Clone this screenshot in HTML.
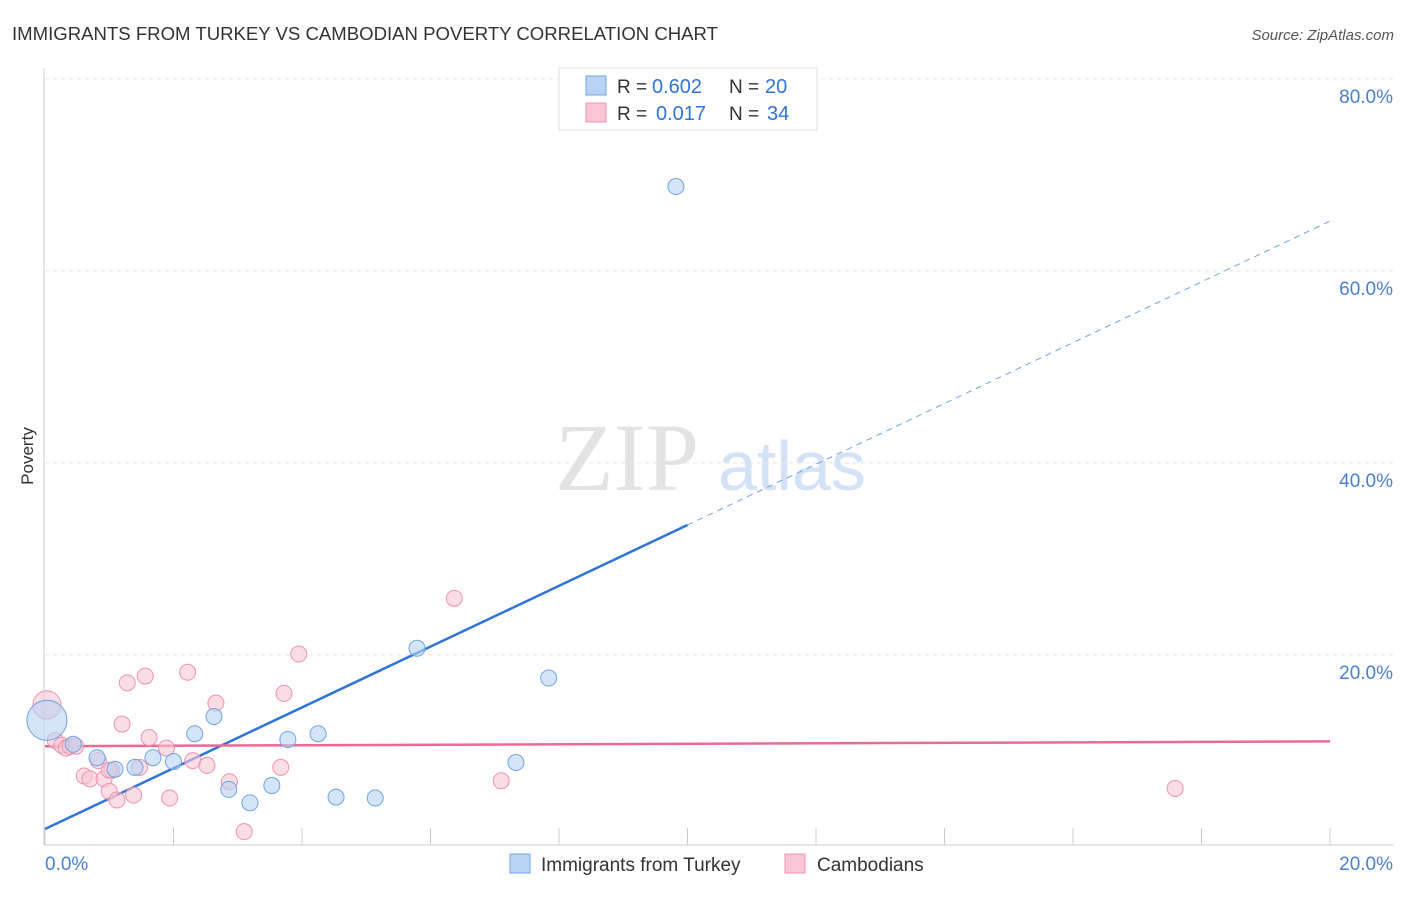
<!DOCTYPE html>
<html><head><meta charset="utf-8"><style>
body{margin:0;background:#fff;font-family:"Liberation Sans",sans-serif}
</style></head><body>
<svg width="1406" height="892" xmlns="http://www.w3.org/2000/svg" font-family="Liberation Sans, sans-serif">
<text x="12" y="40" font-size="18" fill="#333" textLength="706" lengthAdjust="spacingAndGlyphs">IMMIGRANTS FROM TURKEY VS CAMBODIAN POVERTY CORRELATION CHART</text>
<text x="1394" y="40" font-size="15" fill="#555" text-anchor="end" font-style="italic">Source: ZipAtlas.com</text>
<text x="555" y="490" font-size="96" fill="#e3e3e3" font-family="Liberation Serif, serif">ZIP</text>
<text x="718" y="490" font-size="70" fill="#d3e2f6">atlas</text>
<g id="grid"></g>
<line x1="44" y1="68" x2="44" y2="845" stroke="#ccc"/>
<line x1="44" y1="845" x2="1394" y2="845" stroke="#ccc"/>
<text transform="translate(33,456) rotate(-90)" font-size="17" fill="#333" text-anchor="middle">Poverty</text>
<text x="45" y="870" font-size="19" fill="#4a7fd4">0.0%</text>
<text x="1393" y="870" font-size="19" fill="#4a7fd4" text-anchor="end">20.0%</text>
<g id="lines"></g>
<g id="points"></g>
<g>
<rect x="559" y="68" width="258" height="62" fill="#fff" stroke="#ddd"/>
<rect x="586" y="76" width="20" height="19" fill="#b8d4f5" stroke="#6fa3e0"/>
<rect x="586" y="103" width="20" height="19" fill="#f8c6d4" stroke="#ee93af"/>
<text x="617" y="93" font-size="19" fill="#333">R =</text>
<text x="652" y="93" font-size="20" fill="#2f74d8">0.602</text>
<text x="729" y="93" font-size="19" fill="#333">N =</text>
<text x="765" y="93" font-size="20" fill="#2f74d8">20</text>
<text x="617" y="120" font-size="19" fill="#333">R =</text>
<text x="656" y="120" font-size="20" fill="#2f74d8">0.017</text>
<text x="729" y="120" font-size="19" fill="#333">N =</text>
<text x="767" y="120" font-size="20" fill="#2f74d8">34</text>
</g>
<g>
<rect x="510" y="854" width="20" height="19" fill="#b8d4f5" stroke="#6fa3e0"/>
<text x="541" y="871" font-size="19" fill="#333">Immigrants from Turkey</text>
<rect x="785" y="854" width="20" height="19" fill="#f8c6d4" stroke="#ee93af"/>
<text x="817" y="871" font-size="19" fill="#333">Cambodians</text>
</g>
</svg>
<script>
const yTicks=[20,40,60,80];
const yTickLabels=["20.0%","40.0%","60.0%","80.0%"];
const blueX=[0.03,0.44,0.81,1.09,1.4,1.68,2.0,2.33,2.63,2.86,3.19,3.53,3.78,4.25,4.53,5.14,5.79,7.33,7.84,9.82];
const blueY=[13.2,10.7,9.3,8.1,8.3,9.3,8.9,11.8,13.6,6.0,4.6,6.4,11.2,11.8,5.2,5.1,20.7,8.8,17.6,68.8];
const blueR=[20,8,8,8,8,8,8,8,8,8,8,8,8,8,8,8,8,8,8,8];
const pinkX=[0.03,0.16,0.26,0.33,0.39,0.48,0.61,0.7,0.83,0.92,1.0,1.04,1.12,1.2,1.28,1.38,1.47,1.56,1.62,1.89,1.94,2.22,2.3,2.52,2.66,2.87,3.1,3.67,3.72,3.95,6.37,7.1,17.59,1.0];
const pinkY=[14.8,11.1,10.6,10.3,10.5,10.5,7.4,7.1,9.0,7.1,5.8,8.0,4.9,12.8,17.1,5.4,8.3,17.8,11.4,10.3,5.1,18.2,9.0,8.5,15.0,6.8,1.6,8.3,16.0,20.1,25.9,6.9,6.1,8.0];
const pinkR=[14,8,8,8,8,8,8,8,8,8,8,8,8,8,8,8,8,8,8,8,8,8,8,8,8,8,8,8,8,8,8,8,8,8];
const blueLine=[1.875,65.2], blueSolidEnd=10.0;
const pinkLine=[10.5,11.0];
const X=v=>45+v/20*1285, Y=v=>847-v/80*768;
const NS="http://www.w3.org/2000/svg";
function mk(t,a,p){const e=document.createElementNS(NS,t);for(const k in a)e.setAttribute(k,a[k]);p.appendChild(e);return e;}
const grid=document.getElementById('grid');
yTicks.forEach((t,i)=>{
 const l=mk('line',{x1:45,x2:1394,y1:Y(t),y2:Y(t),stroke:'#e6e6e6','stroke-dasharray':'4,4'},grid);
 
 
 const tx=mk('text',{x:1393,y:Y(t)+24,'font-size':19,fill:'#4a7fd4','text-anchor':'end'},grid);
 tx.textContent=yTickLabels[i];
 
 
});
for(let i=0;i<=10;i++){
 const l=mk('line',{x1:X(i*2),x2:X(i*2),y1:828,y2:845,stroke:'#ccc'},grid);
 
 
}
const lines=document.getElementById('lines');
const by=x=>blueLine[0]+(blueLine[1]-blueLine[0])*x/20;
let l1=mk('line',{x1:X(0),y1:Y(by(0)),x2:X(blueSolidEnd),y2:Y(by(blueSolidEnd)),stroke:'#2f74d8','stroke-width':2.5},lines);


let l2=mk('line',{x1:X(blueSolidEnd),y1:Y(by(blueSolidEnd)),x2:X(20),y2:Y(by(20)),stroke:'#6fa3e0','stroke-width':1,'stroke-dasharray':'6,5'},lines);


let l3=mk('line',{x1:X(0),y1:Y(pinkLine[0]),x2:X(20),y2:Y(pinkLine[1]),stroke:'#ea6a93','stroke-width':2.5},lines);


const pts=document.getElementById('points');
pinkX.forEach((x,i)=>{const c=mk('circle',{cx:X(x),cy:Y(pinkY[i]),r:pinkR[i],fill:'#f8c6d4','fill-opacity':0.6,stroke:'#ee93af','stroke-width':1},pts);
 
 });
blueX.forEach((x,i)=>{const c=mk('circle',{cx:X(x),cy:Y(blueY[i]),r:blueR[i],fill:'#b8d4f5','fill-opacity':0.6,stroke:'#6fa3e0','stroke-width':1},pts);
 
 });
</script>
</body></html>
